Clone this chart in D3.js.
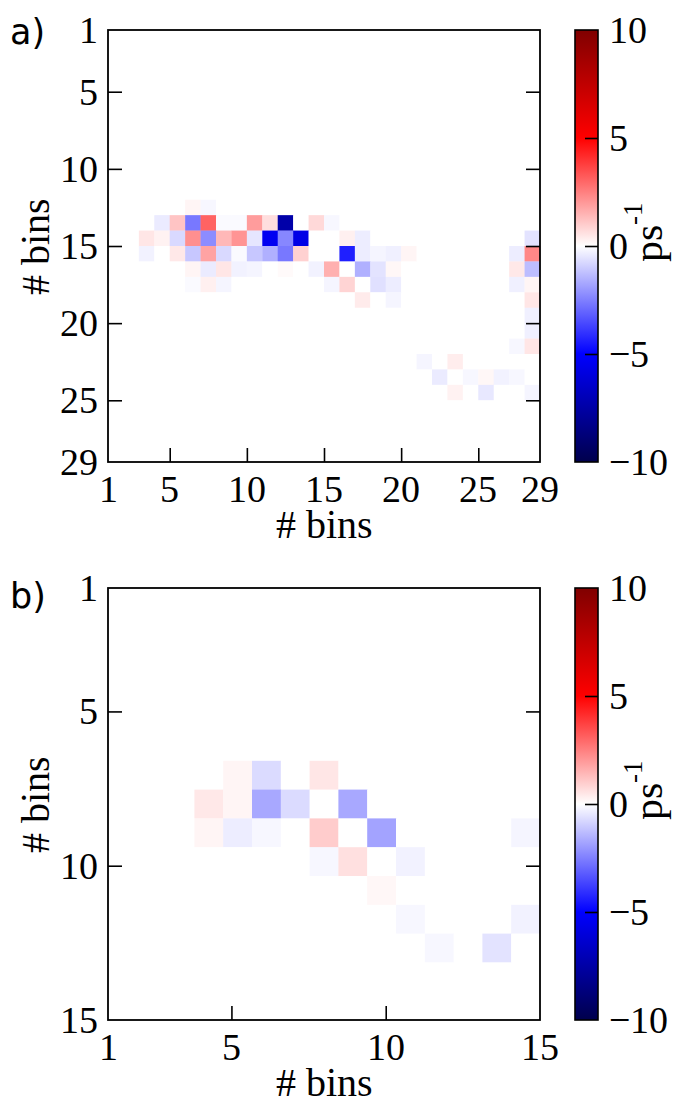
<!DOCTYPE html>
<html>
<head>
<meta charset="utf-8">
<script src="https://cdn.jsdelivr.net/npm/d3@7"></script>
<style>
  @font-face {
    font-family: "PlotSerif";
    src: local("Liberation Serif"), local("LiberationSerif"), local("LiberationSerif-Regular");
  }
</style>
</head>
<body style="margin:0">
<div id="chart"></div>
<script>
// panel a: 28 x 28 bins, axis labelled 1..29
const binsA = 28;
const axisMaxA = 29;
const blankA = 2; // first bins carry no data (left white)
const ticksA = [1, 5, 10, 15, 20, 25, 29];
// [row, col, value in ps^-1], everything else ~0
const cellsA = [
  [11, 5, 0.2], [11, 6, -0.15],
  [12, 3, -0.4], [12, 4, 1.15], [12, 5, -2.65], [12, 6, 3.05], [12, 7, -0.1], [12, 8, -0.1],
  [12, 9, 1.95], [12, 10, 0.65], [12, 11, -7.4], [12, 13, 0.75], [12, 14, -0.15],
  [13, 2, 0.5], [13, 3, 0.25], [13, 4, -0.75], [13, 5, 2.2], [13, 6, -2.25], [13, 7, 1.4],
  [13, 8, 2.1], [13, 9, -0.5], [13, 10, -5.4], [13, 11, -2.35], [13, 12, -5.7],
  [13, 15, 0.3], [13, 16, -0.35], [13, 27, -0.55],
  [14, 2, -0.25], [14, 4, 0.45], [14, 5, -1.1], [14, 6, 1.8], [14, 7, -0.75], [14, 8, -0.1],
  [14, 9, -1.1], [14, 10, -1.55], [14, 11, -2.65], [14, 12, 0.9], [14, 15, -4.4],
  [14, 16, -0.35], [14, 17, -0.2], [14, 18, -0.3], [14, 19, 0.2], [14, 26, -0.35], [14, 27, 2.35],
  [15, 5, 0.2], [15, 6, -0.4], [15, 7, 0.5], [15, 8, -0.25], [15, 9, -0.2], [15, 11, 0.1],
  [15, 13, -0.25], [15, 14, 1.55], [15, 16, -1.55], [15, 17, -0.55], [15, 18, 0.15],
  [15, 26, 0.45], [15, 27, -1.3],
  [16, 5, -0.1], [16, 6, 0.3], [16, 7, -0.2], [16, 14, -0.2], [16, 15, 0.85], [16, 17, -0.6],
  [16, 18, -0.35], [16, 26, -0.3], [16, 27, 0.2],
  [17, 16, 0.4], [17, 18, -0.2], [17, 27, 0.5],
  [18, 27, -0.3], [19, 27, -0.3],
  [20, 26, -0.15], [20, 27, 0.5],
  [21, 20, -0.2], [21, 22, 0.35],
  [22, 21, -0.4], [22, 23, -0.15], [22, 24, 0.15], [22, 25, -0.25], [22, 26, -0.15],
  [23, 22, 0.25], [23, 24, -0.45], [23, 27, -0.2]
];

// panel b: 15 x 15 bins, axis labelled 1..15
const binsB = 15;
const axisMaxB = 15;
const blankB = 1;
const ticksB = [1, 5, 10, 15];
const cellsB = [
  [6, 4, 0.2], [6, 5, -0.7], [6, 7, 0.5],
  [7, 3, 0.45], [7, 4, 0.2], [7, 5, -1.7], [7, 6, -0.7], [7, 8, -1.7],
  [8, 3, 0.2], [8, 4, -0.35], [8, 5, -0.15], [8, 7, 1.0], [8, 9, -1.8], [8, 14, -0.2],
  [9, 7, -0.15], [9, 8, 0.6], [9, 10, -0.25],
  [10, 9, 0.15],
  [11, 10, -0.15], [11, 14, -0.25],
  [12, 11, -0.15], [12, 13, -0.55]
];

// colour bar (seismic, -10..10)
const cbTicks = [-10, -5, 0, 5, 10];
const cmapStops = [-10, -5, 0, 5, 10];
const cmapColors = ["#00004c", "#0000ff", "#ffffff", "#ff0000", "#800000"];

const width = 675, height = 1104;
const plotLeft = 108, plotSize = 432;
const cbLeft = 575, cbWidth = 23;
const serifFamily = '"PlotSerif", "Liberation Serif", serif';

const color = d3.scaleLinear().domain(cmapStops).range(cmapColors).clamp(true);

const svg = d3.select("#chart").append("svg")
  .attr("width", width)
  .attr("height", height);

// gradient for the colour bars
const grad = svg.append("defs").append("linearGradient")
  .attr("id", "seismic")
  .attr("x1", 0).attr("y1", 1).attr("x2", 0).attr("y2", 0);
grad.selectAll("stop").data(cmapStops).join("stop")
  .attr("offset", d => (d + 10) / 20)
  .attr("stop-color", d => color(d));

// all labels are plain text elements straight under the svg
function label(x, y, txt, size, anchor, rotate, family) {
  return svg.append("text")
    .attr("transform", `translate(${x},${y})` + (rotate ? " rotate(-90)" : ""))
    .attr("text-anchor", anchor)
    .style("font-family", family || serifFamily)
    .style("font-size", size + "px")
    .text(txt);
}

function drawPanel(top, bins, axisMax, blank, cells, ticks, tag, tagY) {
  const g = svg.append("g");

  // full matrix, 0 where nothing was read
  const lookup = new Map(cells.map(d => [d[0] + "," + d[1], d[2]]));
  const grid = [];
  for (let r = blank; r < bins; r++) {
    for (let c = blank; c < bins; c++) {
      grid.push({r: r, c: c, v: lookup.get(r + "," + c) || 0});
    }
  }

  const band = d3.scaleBand().domain(d3.range(bins)).range([0, plotSize]);
  const x = d3.scaleLinear().domain([1, axisMax]).range([plotLeft, plotLeft + plotSize]);
  const y = d3.scaleLinear().domain([1, axisMax]).range([top, top + plotSize]);

  g.selectAll("rect.cell").data(grid).join("rect")
    .attr("class", "cell")
    .attr("x", d => plotLeft + band(d.c))
    .attr("y", d => top + band(d.r))
    .attr("width", band.bandwidth() + 0.3)
    .attr("height", band.bandwidth() + 0.3)
    .attr("fill", d => color(d.v));

  // tick marks only from the axes, pointing in
  const inner = ticks.filter(t => t !== 1 && t !== axisMax);
  g.append("g")
    .attr("transform", `translate(${plotLeft},0)`)
    .call(d3.axisLeft(y).tickValues(inner).tickSize(-14).tickFormat("").tickSizeOuter(0));
  g.append("g")
    .attr("transform", `translate(${plotLeft + plotSize},0)`)
    .call(d3.axisRight(y).tickValues(inner).tickSize(-14).tickFormat("").tickSizeOuter(0));
  g.append("g")
    .attr("transform", `translate(0,${top + plotSize})`)
    .call(d3.axisBottom(x).tickValues(inner).tickSize(-14).tickFormat("").tickSizeOuter(0));
  g.selectAll(".domain").remove();
  g.selectAll(".tick line").attr("stroke", "#000").attr("stroke-width", 1.6);

  g.append("rect")
    .attr("x", plotLeft).attr("y", top)
    .attr("width", plotSize).attr("height", plotSize)
    .attr("fill", "none").attr("stroke", "#000").attr("stroke-width", 1.8);

  // tick labels
  ticks.forEach(t => {
    label(plotLeft - 10, y(t) + 13, t, 38, "end");
    label(x(t), top + plotSize + 40, t, 38, "middle");
  });

  // axis titles
  label(plotLeft + plotSize / 2, top + plotSize + 76, "# bins", 40, "middle");
  label(49, top + plotSize / 2, "# bins", 40, "middle", true);

  // panel tag
  label(10, tagY, tag, 35, "start", false, '"DejaVu Sans", sans-serif');

  // colour bar
  const cb = d3.scaleLinear().domain([-10, 10]).range([top + plotSize, top]);
  g.append("rect")
    .attr("x", cbLeft).attr("y", top)
    .attr("width", cbWidth).attr("height", plotSize)
    .attr("fill", "url(#seismic)")
    .attr("stroke", "#000").attr("stroke-width", 1.6);
  const cbAxis = g.append("g")
    .attr("transform", `translate(${cbLeft + cbWidth},0)`)
    .call(d3.axisRight(cb).tickValues(cbTicks.filter(v => Math.abs(v) < 10))
      .tickSize(-13).tickFormat("").tickSizeOuter(0));
  cbAxis.select(".domain").remove();
  cbAxis.selectAll(".tick line").attr("stroke", "#000").attr("stroke-width", 1.6);
  cbTicks.forEach(v => {
    label(cbLeft + cbWidth + 11, cb(v) + 13, d3.format("")(v), 38, "start");
  });

  const unit = label(662, top + plotSize / 2 - 14, "ps", 42, "middle", true);
  unit.append("tspan").style("font-size", "27px").attr("dy", "-0.75em").text("-1");
}

drawPanel(30, binsA, axisMaxA, blankA, cellsA, ticksA, "a)", 44);
drawPanel(588, binsB, axisMaxB, blankB, cellsB, ticksB, "b)", 608);
</script>
</body>
</html>
